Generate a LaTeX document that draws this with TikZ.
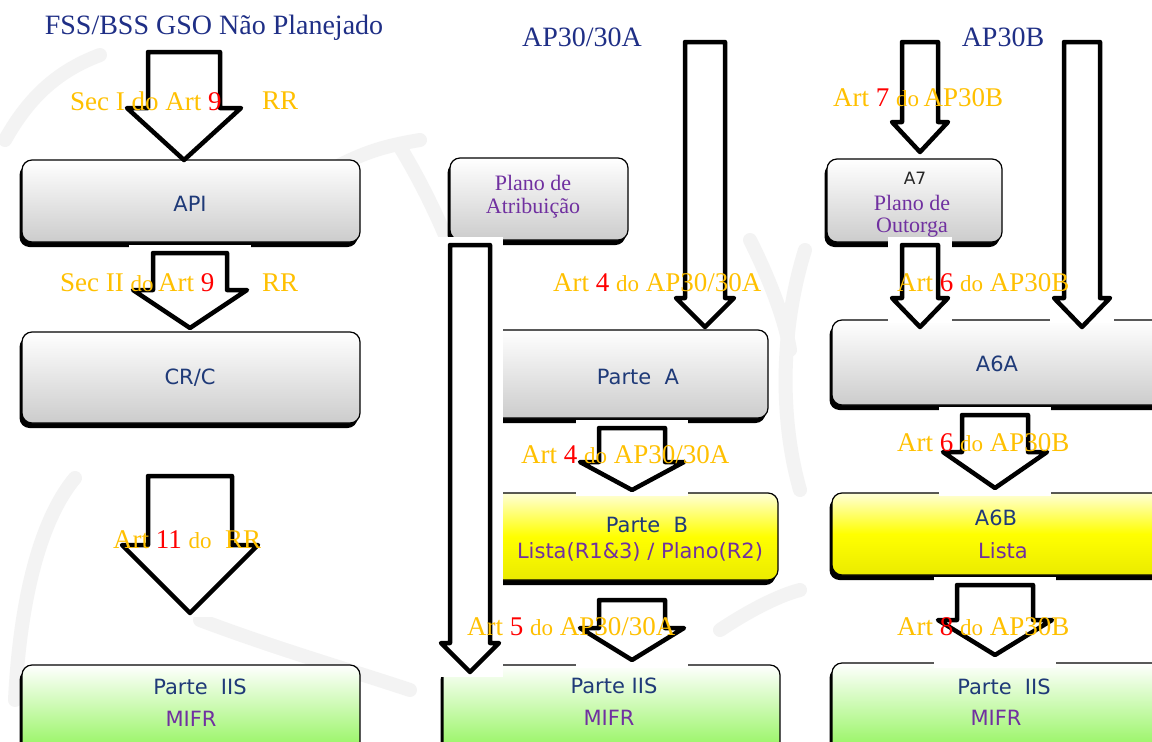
\documentclass[tikz,border=0pt]{standalone}
\usepackage{fontspec}
\setmainfont{Liberation Serif}
\newfontfamily\boxsans{DejaVu Sans}
\usetikzlibrary{shadows}
\definecolor{navy}{HTML}{1F2F86}
\definecolor{boxblue}{HTML}{1F3A78}
\definecolor{purp}{HTML}{7030A0}
\definecolor{orng}{HTML}{FFC000}
\definecolor{rd}{HTML}{FF0000}
\definecolor{wm}{HTML}{F3F3F3}
\definecolor{grn}{HTML}{7CF23A}
\definecolor{yel}{HTML}{FFFF00}
\tikzset{
  box/.style={rounded corners=10pt, draw=black, line width=1.2pt, inner sep=0pt,
    drop shadow={shadow xshift=-2.5pt, shadow yshift=-5pt, opacity=1, fill=black}},
  graybox/.style={box, top color=white, bottom color=black!20},
  yelbox/.style={box, top color=yel!15, bottom color=yel!92!black, middle color=yel},
  grnbox/.style={box, top color=white, bottom color=grn},
  barrow/.style={draw=black, fill=white, line width=4.5pt, line join=round},
  wmark/.style={draw=wm, line width=14pt, line cap=round},
  lab/.style={anchor=west, inner sep=0pt, text=orng, font=\fontsize{27}{30}\selectfont},
  ttl/.style={inner sep=0pt, text=navy, font=\fontsize{28}{32}\selectfont},
  btxt/.style={inner sep=0pt, text=boxblue, font=\boxsans\fontsize{21}{24}\selectfont},
  ptxt/.style={inner sep=0pt, text=purp, font=\boxsans\fontsize{21}{24}\selectfont},
  stxt/.style={inner sep=0pt, text=purp, font=\fontsize{22}{25}\selectfont, align=center},
}
\newcommand\smalldo{{\fontsize{23}{26}\selectfont do}}
% #1 name, #2 cx, #3 ytop, #4 yhead, #5 ytip, #6 half shaft, #7 half head, #8 bottom of white ground
\newcommand\blockarrow[8]{%
  \fill[white] ({#2-#7-4},{#3-8}) rectangle ({#2+#7+4},#8);
  \draw[barrow] ({#2-#6},#3) coordinate (#1top) -- ({#2-#6},#4) -- ({#2-#7},#4)
     -- (#2,#5) coordinate (#1tip) -- ({#2+#7},#4) -- ({#2+#6},#4) -- ({#2+#6},#3) -- cycle;
}
\begin{document}
\begin{tikzpicture}[x=1pt,y=-1pt]
\useasboundingbox (0,0) rectangle (1152,742);
\clip (0,0) rectangle (1152,742);
\fill[white] (0,0) rectangle (1152,742);

% faint watermark
\draw[wmark] (5,140) .. controls (30,95) and (60,70) .. (100,55);
\draw[wmark] (15,700) .. controls (20,600) and (40,520) .. (75,478);
\draw[wmark] (200,620) .. controls (280,650) and (350,670) .. (410,690);
\draw[wmark] (340,165) .. controls (370,150) and (390,145) .. (420,140);
\draw[wmark] (400,147) .. controls (420,180) and (440,220) .. (455,260);
\draw[wmark] (750,240) .. controls (770,280) and (785,320) .. (790,350);
\draw[wmark] (805,250) .. controls (780,330) and (780,420) .. (800,490);
\draw[wmark] (720,630) .. controls (750,610) and (780,595) .. (800,590);

% boxes
\node[graybox, minimum width=338pt, minimum height=82pt] (api) at (191,201) {};
\node[graybox, minimum width=338pt, minimum height=91pt] (crc) at (191,377.5) {};
\node[grnbox, minimum width=338pt, minimum height=105pt] (iis1) at (191,717.5) {};
\node[graybox, minimum width=178pt, minimum height=82pt] (plano) at (539,199) {};
\node[graybox, minimum width=283pt, minimum height=88pt] (partea) at (626.5,374) {};
\node[yelbox, minimum width=293pt, minimum height=87pt] (parteb) at (631.5,536.5) {};
\node[grnbox, minimum width=337pt, minimum height=105pt] (iis2) at (611.5,717.5) {};
\node[graybox, minimum width=175pt, minimum height=83pt] (a7) at (914.5,200.5) {};
\node[graybox, minimum width=343pt, minimum height=85pt] (a6a) at (1003.5,362.5) {};
\node[yelbox, minimum width=343pt, minimum height=82pt] (a6b) at (1003.5,534) {};
\node[grnbox, minimum width=343pt, minimum height=107pt] (iis3) at (1003.5,716.5) {};

% block arrows
\blockarrow{arA}{184}{52}{108}{160}{36}{57}{156}
\blockarrow{arB}{190}{253}{290}{328}{37}{57}{328}
\blockarrow{arC}{190}{476}{545}{613}{42}{68}{617}
\blockarrow{arD}{705}{42}{298}{327}{20}{29}{323}
\blockarrow{arE}{470}{245}{643}{672}{20}{29}{677}
\blockarrow{arF}{632}{428}{462}{490}{33}{52}{496}
\blockarrow{arG}{632}{600}{628}{660}{33}{52}{668}
\blockarrow{arH}{920}{42}{122}{152}{18}{28}{156}
\blockarrow{arI}{1082}{42}{298}{327}{18}{28}{323}
\blockarrow{arJ}{920}{245}{298}{327}{18}{28}{323}
\blockarrow{arK}{995}{415}{452}{488}{33}{52}{496}
\blockarrow{arL}{995}{585}{620}{655}{38}{57}{668}

% box texts
\node[btxt] (tapi) at (190,204) {API};
\node[btxt] (tcrc) at (190,378) {CR/C};
\node[btxt] (tiis1) at (200,687) {Parte\ \ IIS};
\node[ptxt] (tmifr1) at (191,719) {MIFR};
\node[stxt] (tplano) at (533,197) {Plano de\\[-2pt]Atribuição};
\node[btxt] (tpa) at (638,377) {Parte\ \ A};
\node[btxt] (tpb) at (647,525) {Parte\ \ B};
\node[ptxt] (tlista) at (640,552) {Lista(R1\&3) / Plano(R2)};
\node[btxt] (tiis2) at (614,686) {Parte IIS};
\node[ptxt] (tmifr2) at (609,718) {MIFR};
\node[inner sep=0pt, text=black!85, font=\boxsans\fontsize{17}{20}\selectfont] (ta7) at (915,178) {A7};
\node[stxt] (toutorga) at (912,216) {Plano de\\[-3pt]Outorga};
\node[btxt] (ta6a) at (997,364) {A6A};
\node[btxt] (ta6b) at (996,518) {A6B};
\node[ptxt] (tlista2) at (1003,551) {Lista};
\node[btxt] (tiis3) at (1004,687) {Parte\ \ IIS};
\node[ptxt] (tmifr3) at (996,718) {MIFR};

% titles
\node[ttl] (t1) at (214,28) {FSS/BSS GSO Não Planejado};
\node[ttl] (t2) at (582,37) {AP30/30A};
\node[ttl] (t3) at (1003,37) {AP30B};

% labels
\node[lab] (l1a) at (70,101) {Sec I do Art {\color{rd}9}};
\node[lab] (l1b) at (262,101) {RR};
\node[lab] (l2a) at (60,283) {Sec II \smalldo\,Art {\color{rd}9}};
\node[lab] (l2b) at (262,283) {RR};
\node[lab] (l3) at (113,540) {Art {\color{rd}11} \smalldo\ \ RR};
\node[lab] (l4) at (553,283) {Art {\color{rd}4} \smalldo\ AP30/30A};
\node[lab] (l5) at (521,455) {Art {\color{rd}4} \smalldo\ AP30/30A};
\node[lab] (l6) at (467,627) {Art {\color{rd}5} \smalldo\ AP30/30A};
\node[lab] (l7) at (833,98) {Art {\color{rd}7} \smalldo\,AP30B};
\node[lab] (l8) at (897,283) {Art {\color{rd}6} \smalldo\ AP30B};
\node[lab] (l9) at (897,443) {Art {\color{rd}6} \smalldo\ AP30B};
\node[lab] (l10) at (897,627) {Art {\color{rd}8} \smalldo\ AP30B};
\end{tikzpicture}
\end{document}
